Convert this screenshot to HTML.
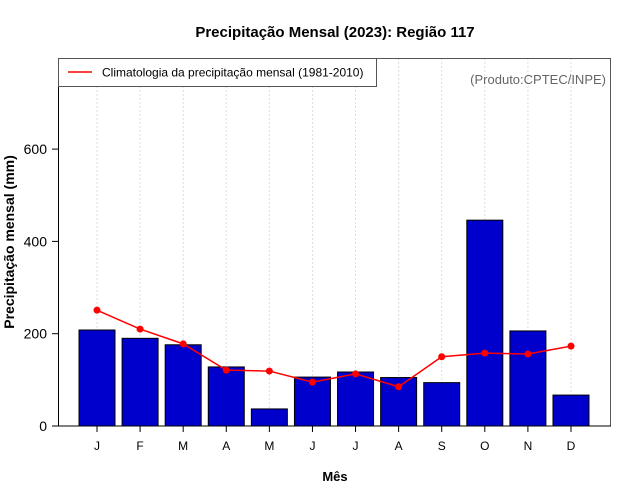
<!DOCTYPE html>
<html><head><meta charset="utf-8"><style>
body{margin:0;background:#fff;}
svg{display:block;font-family:"Liberation Sans",sans-serif;}
</style></head><body>
<svg id="c" width="640" height="500">
<text x="335" y="37" text-anchor="middle" font-size="15" font-weight="bold">Precipitação Mensal (2023): Região 117</text>
<text x="335" y="481" text-anchor="middle" font-size="13" font-weight="bold">Mês</text>
<text transform="translate(14,242) rotate(-90)" text-anchor="middle" font-size="14" font-weight="bold">Precipitação mensal (mm)</text>
<g id="grid"></g><g id="bars"></g><g id="line"></g><g id="axes"></g>
<rect x="58.5" y="58.5" width="318" height="28" fill="#fff" stroke="#555"/>
<line x1="68" y1="72" x2="92" y2="72" stroke="red" stroke-width="1.5"/>
<text x="102" y="76.5" font-size="12">Climatologia da precipitação mensal (1981-2010)</text>
<text x="606" y="84" text-anchor="end" font-size="13" fill="#666">(Produto:CPTEC/INPE)</text>
</svg>
<script>
const months=["J","F","M","A","M","J","J","A","S","O","N","D"];
const precip=[208,190,176,128,37,106,117,105,94,446,206,67];
const clim=[251,210,178,121,119,95,113,85,150,158,156,173];
const yTicks=[0,200,400,600];
const NS="http://www.w3.org/2000/svg";
const x0=97,dx=43.09,y0=426,ky=0.4615;
const X=i=>x0+i*dx, Y=v=>y0-v*ky;
function mk(t,a,p){const e=document.createElementNS(NS,t);for(const k in a)e.setAttribute(k,a[k]);p.appendChild(e);return e;}
const g=document.getElementById('grid'),b=document.getElementById('bars'),l=document.getElementById('line'),ax=document.getElementById('axes');
months.forEach((m,i)=>{
 const gl=mk('line',{x1:X(i),x2:X(i),y1:58,y2:426,stroke:'#ddd','stroke-dasharray':'2,2'},g);
 
 
 const r=mk('rect',{x:X(i)-18,y:Y(precip[i]),width:36,height:precip[i]*ky,fill:'#0000CC',stroke:'#000','stroke-width':1},b);
 
 
 const t=mk('line',{x1:X(i),x2:X(i),y1:426,y2:432,stroke:'#000'},ax);
 
 
 const tx=mk('text',{x:X(i),y:450,'text-anchor':'middle','font-size':12},ax);
 tx.textContent=m;
 
 
});
const pl=mk('polyline',{points:clim.map((v,i)=>X(i)+','+Y(v)).join(' '),fill:'none',stroke:'red','stroke-width':1.5},l);


clim.forEach((v,i)=>{const c=mk('circle',{cx:X(i),cy:Y(v),r:3.5,fill:'red'},l);
 
 });
const fr=mk('rect',{x:58.5,y:58.5,width:552,height:367.5,fill:'none',stroke:'#555'},ax);


const al=mk('line',{x1:58.5,x2:58.5,y1:58,y2:426,stroke:'#000'},ax);


const bl=mk('line',{x1:58,x2:611,y1:426,y2:426,stroke:'#000'},ax);


yTicks.forEach(v=>{
 const t=mk('line',{x1:52,x2:58.5,y1:Y(v),y2:Y(v),stroke:'#000'},ax);
 
 
 const tx=mk('text',{x:47,y:Y(v)+5,'text-anchor':'end','font-size':14},ax);
 tx.textContent=v;
 
 
});
</script>
</body></html>
